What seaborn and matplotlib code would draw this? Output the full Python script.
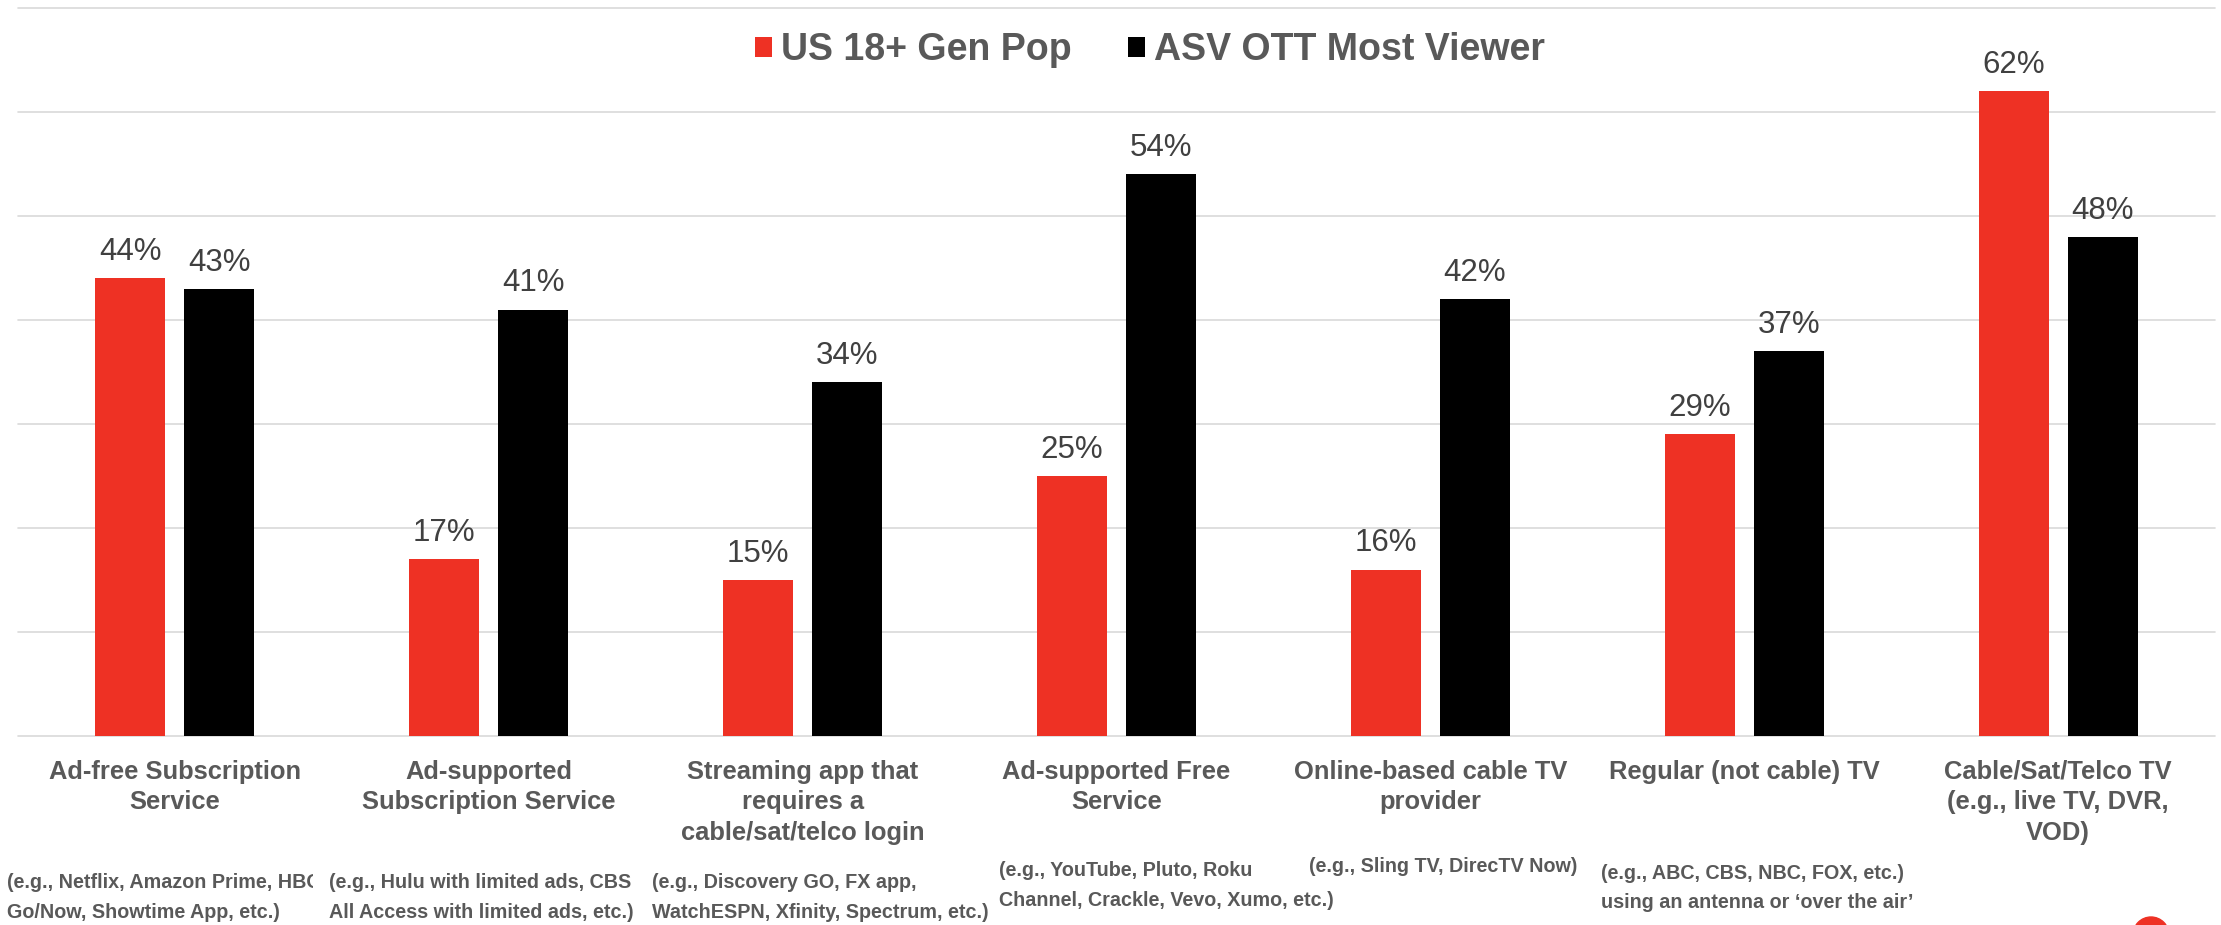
import matplotlib
matplotlib.use("Agg")
import matplotlib.pyplot as plt
from matplotlib.transforms import Bbox
from matplotlib.patches import Circle
import seaborn as sns
import pandas as pd

# ---- data ----
categories = [
    "Ad-free Subscription\nService",
    "Ad-supported\nSubscription Service",
    "Streaming app that\nrequires a\ncable/sat/telco login",
    "Ad-supported Free\nService",
    "Online-based cable TV\nprovider",
    "Regular (not cable) TV",
    "Cable/Sat/Telco TV\n(e.g., live TV, DVR,\nVOD)",
]
series = ["US 18+ Gen Pop", "ASV OTT Most Viewer"]
gen_pop = [44, 17, 15, 25, 16, 29, 62]
asv_ott = [43, 41, 34, 54, 42, 37, 48]
sub_labels = [
    "(e.g., Netflix, Amazon Prime, HBO\nGo/Now, Showtime App, etc.)",
    "(e.g., Hulu with limited ads, CBS\nAll Access with limited ads, etc.)",
    "(e.g., Discovery GO, FX app,\nWatchESPN, Xfinity, Spectrum, etc.)",
    "(e.g., YouTube, Pluto, Roku\nChannel, Crackle, Vevo, Xumo, etc.)",
    "(e.g., Sling TV, DirecTV Now)",
    "(e.g., ABC, CBS, NBC, FOX, etc.)\nusing an antenna or \u2018over the air\u2019",
]

RED = "#EE3124"
BLACK = "#000000"
GREY_TXT = "#595959"
LABEL_TXT = "#404040"
GRID = "#D9D9D9"

df = pd.DataFrame({
    "category": categories * 2,
    "series": [series[0]] * len(categories) + [series[1]] * len(categories),
    "value": gen_pop + asv_ott,
})

sns.set_style("white")
plt.rcParams["font.family"] = ["Liberation Sans", "DejaVu Sans"]

W, H = 2221, 925
fig = plt.figure(figsize=(W / 100, H / 100), dpi=100)
ax = fig.add_axes([18 / W, 1 - 736 / H, (2215 - 18) / W, (736 - 8) / H])

sns.barplot(data=df, x="category", y="value", hue="series",
            palette=[RED, BLACK], saturation=1, width=0.567, gap=0.213,
            ax=ax, legend=True, linewidth=0)

ax.set_ylim(0, 70)
ax.set_xlim(-0.5, len(categories) - 0.5)
ax.set_yticks(range(0, 71, 10))
ax.set_yticklabels([])
ax.tick_params(axis="y", length=0)
ax.tick_params(axis="x", length=0, pad=17)
ax.yaxis.grid(True, color=GRID, linewidth=1.2)
for gl in ax.get_ygridlines():
    gl.set_clip_on(False)
ax.set_axisbelow(True)
for s in ax.spines.values():
    s.set_visible(False)
ax.set_xlabel("")
ax.set_ylabel("")

for lbl in ax.get_xticklabels():
    lbl.set_fontsize(18.4)
    lbl.set_fontweight("bold")
    lbl.set_color(GREY_TXT)
    lbl.set_linespacing(1.35)

for cont in ax.containers:
    ax.bar_label(cont, labels=[f"{v:.0f}%" for v in cont.datavalues],
                 padding=8, fontsize=22.5, color=LABEL_TXT)

# legend
handles, labs = ax.get_legend_handles_labels()
leg = ax.legend(handles, labs, loc="center", bbox_to_anchor=(1150 / W, 1 - 50 / H),
                bbox_transform=fig.transFigure, ncol=2, frameon=False,
                prop={"size": 27, "weight": "bold"}, handlelength=0.45,
                handleheight=0.45, handletextpad=0.25, columnspacing=1.5)
for t in leg.get_texts():
    t.set_color(GREY_TXT)

# sub labels (left x px, top y px)
sub_pos = [(7, 873), (329, 873), (652, 873), (999, 861), (1443, 857), (1601, 864)]
for i, (txt, (px, py)) in enumerate(zip(sub_labels, sub_pos)):
    ha = "center" if i == 4 else "left"
    t = fig.text(px / W, 1 - py / H, txt, ha=ha, va="top", fontsize=14.2,
                 fontweight="bold", color=GREY_TXT, linespacing=1.7)
    if i == 0:
        t.set_clip_box(Bbox([[0, 0], [313, H]]))
        t.set_clip_on(True)

# small red dot at bottom right corner
fig.add_artist(Circle((2151 / 100, -10 / 100), 18 / 100, color=RED,
                      transform=fig.dpi_scale_trans))

fig.savefig("out.png", dpi=100)
